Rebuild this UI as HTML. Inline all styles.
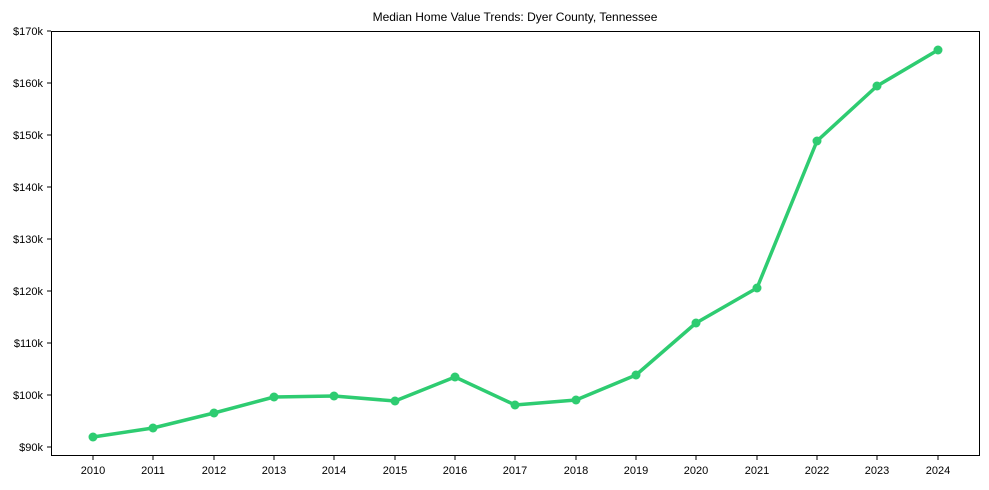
<!DOCTYPE html><html><head><style>body{margin:0;background:#fff}svg{display:block;font-family:"Liberation Sans",sans-serif}</style></head><body>
<svg width="989" height="490" viewBox="0 0 989 490">
<text x="515" y="21" font-size="12" text-anchor="middle" fill="#000">Median Home Value Trends: Dyer County, Tennessee</text>
<rect x="51.5" y="31.5" width="928" height="424" fill="none" stroke="#000" stroke-width="1"/>
<g font-size="11" fill="#000" text-anchor="end">
<g stroke="#000"><line x1="47" x2="51" y1="31" y2="31"/><line x1="47" x2="51" y1="83" y2="83"/><line x1="47" x2="51" y1="135" y2="135"/><line x1="47" x2="51" y1="187" y2="187"/><line x1="47" x2="51" y1="239" y2="239"/><line x1="47" x2="51" y1="291" y2="291"/><line x1="47" x2="51" y1="343" y2="343"/><line x1="47" x2="51" y1="395" y2="395"/><line x1="47" x2="51" y1="447" y2="447"/></g>
<text x="43" y="35">$170k</text><text x="43" y="87">$160k</text><text x="43" y="139">$150k</text><text x="43" y="191">$140k</text><text x="43" y="243">$130k</text><text x="43" y="295">$120k</text><text x="43" y="347">$110k</text><text x="43" y="399">$100k</text><text x="43" y="451">$90k</text>
</g>
<g font-size="11" fill="#000" text-anchor="middle" id="xt"></g>
<polyline fill="none" stroke="#2ecc71" stroke-width="3.5" stroke-linejoin="round" points="93,437 153,428 214,413 274,397 334,396 395,401 455,377 515,405 576,400 636,375 696,323 757,288 817,141 877,86 938,50"/>
<g fill="#2ecc71"><circle cx="93" cy="437" r="4.5"/><circle cx="153" cy="428" r="4.5"/><circle cx="214" cy="413" r="4.5"/><circle cx="274" cy="397" r="4.5"/><circle cx="334" cy="396" r="4.5"/><circle cx="395" cy="401" r="4.5"/><circle cx="455" cy="377" r="4.5"/><circle cx="515" cy="405" r="4.5"/><circle cx="576" cy="400" r="4.5"/><circle cx="636" cy="375" r="4.5"/><circle cx="696" cy="323" r="4.5"/><circle cx="757" cy="288" r="4.5"/><circle cx="817" cy="141" r="4.5"/><circle cx="877" cy="86" r="4.5"/><circle cx="938" cy="50" r="4.5"/></g>
<g stroke="#000"><line x1="93" x2="93" y1="456" y2="460"/><line x1="153" x2="153" y1="456" y2="460"/><line x1="214" x2="214" y1="456" y2="460"/><line x1="274" x2="274" y1="456" y2="460"/><line x1="334" x2="334" y1="456" y2="460"/><line x1="395" x2="395" y1="456" y2="460"/><line x1="455" x2="455" y1="456" y2="460"/><line x1="515" x2="515" y1="456" y2="460"/><line x1="576" x2="576" y1="456" y2="460"/><line x1="636" x2="636" y1="456" y2="460"/><line x1="696" x2="696" y1="456" y2="460"/><line x1="757" x2="757" y1="456" y2="460"/><line x1="817" x2="817" y1="456" y2="460"/><line x1="877" x2="877" y1="456" y2="460"/><line x1="938" x2="938" y1="456" y2="460"/></g>
<g font-size="11" fill="#000" text-anchor="middle">
<text x="93" y="474">2010</text><text x="153" y="474">2011</text><text x="214" y="474">2012</text><text x="274" y="474">2013</text><text x="334" y="474">2014</text><text x="395" y="474">2015</text><text x="455" y="474">2016</text><text x="515" y="474">2017</text><text x="576" y="474">2018</text><text x="636" y="474">2019</text><text x="696" y="474">2020</text><text x="757" y="474">2021</text><text x="817" y="474">2022</text><text x="877" y="474">2023</text><text x="938" y="474">2024</text>
</g>
</svg></body></html>
